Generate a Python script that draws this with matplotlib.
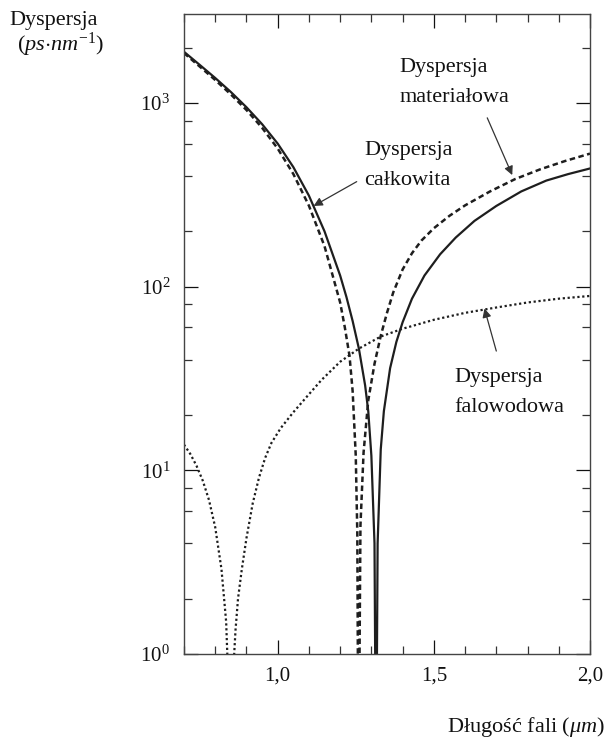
import matplotlib
matplotlib.use('Agg')
import matplotlib.pyplot as plt
from matplotlib.ticker import FixedLocator, MultipleLocator, LogLocator, NullFormatter

plt.rcParams['font.family'] = ['Liberation Serif', 'DejaVu Serif']
plt.rcParams['mathtext.fontset'] = 'custom'
plt.rcParams['mathtext.rm'] = 'Liberation Serif'
plt.rcParams['mathtext.it'] = 'Liberation Serif:italic'

# dyspersja calkowita (solid)
wl_total = [0.70, 0.75, 0.80, 0.85, 0.90, 0.95, 1.00, 1.05, 1.10, 1.15, 1.20, 1.22,
            1.24, 1.26, 1.28, 1.29, 1.30, 1.31, 1.314, 1.316, 1.32, 1.33, 1.34,
            1.36, 1.38, 1.40, 1.43, 1.47, 1.52, 1.57, 1.63, 1.70, 1.78, 1.86,
            1.93, 2.00]
d_total = [1900, 1614, 1368, 1148, 948, 767, 601, 448, 313, 200, 115, 88,
           65, 46, 29, 21, 12, 4, 0.3, 0.3, 4, 13, 21,
           36, 50, 64, 86, 115, 150, 185, 228, 275, 330, 378,
           410, 440]

# dyspersja materialowa (dashed)
wl_mat = [0.70, 0.75, 0.80, 0.85, 0.90, 0.95, 1.00, 1.05, 1.10, 1.15, 1.20, 1.215,
          1.23, 1.24, 1.25, 1.255, 1.258, 1.26, 1.265, 1.275, 1.29, 1.31, 1.33,
          1.35, 1.37, 1.40, 1.43, 1.46, 1.50, 1.55, 1.60, 1.68, 1.76, 1.84,
          1.92, 2.00]
d_mat = [1870, 1581, 1334, 1114, 916, 733, 565, 411, 276, 166, 82, 60,
         42, 27, 12, 4.5, 0.3, 0.3, 5, 12.5, 24, 38, 54,
         72, 93, 124, 152, 178, 208, 243, 277, 330, 385, 435,
         483, 530]

# dyspersja falowodowa (dotted)
wl_wg = [0.70, 0.72, 0.74, 0.76, 0.78, 0.80, 0.82, 0.835, 0.845, 0.85, 0.86, 0.865,
         0.873, 0.885, 0.90, 0.92, 0.94, 0.96, 0.98, 1.01, 1.05, 1.09, 1.14, 1.20,
         1.26, 1.33, 1.40, 1.50, 1.60, 1.70, 1.80, 1.90, 2.00]
d_wg = [13.8, 12.3, 10.6, 8.8, 6.9, 4.9, 2.9, 1.5, 0.5, 0.3, 0.95, 1.35,
        2.0, 2.88, 4.27, 6.6, 9.1, 11.7, 14.1, 17.0, 20.7, 24.8, 31, 39,
        46, 53.5, 59, 66, 72, 77, 82, 86, 89]

x_major = [1.0, 1.5, 2.0]
x_labels = ['1,0', '1,5', '2,0']

ink = '#1e1e1e'

fig = plt.figure(figsize=(6.07, 7.42), dpi=100)
ax = fig.add_axes([0.3031, 0.1186, 0.6689, 0.8625])

ax.plot(wl_total, d_total, color=ink, lw=1.6)
ax.plot(wl_mat, d_mat, color=ink, lw=1.8, linestyle=(0, (2.2, 1.4)))
ax.plot(wl_wg, d_wg, color=ink, lw=1.6, linestyle=(0, (1, 1.2)))

ax.set_yscale('log')
ax.set_xlim(0.7, 2.0)
ax.set_ylim(1, 3050)

ax.xaxis.set_major_locator(FixedLocator(x_major))
ax.set_xticklabels(x_labels)
ax.xaxis.set_minor_locator(MultipleLocator(0.1))
ax.yaxis.set_major_locator(LogLocator(base=10, numticks=10))
ax.yaxis.set_minor_locator(LogLocator(base=10, subs=[2, 4, 6, 8], numticks=10))
ax.yaxis.set_minor_formatter(NullFormatter())

ax.tick_params(which='both', direction='in', top=True, right=True, color='#333333')
ax.tick_params(which='major', length=10, width=0.9, labelsize=15, colors='#111111')
ax.tick_params(which='minor', length=5.5, width=0.9)
ax.tick_params(axis='x', which='major', pad=9)
ax.tick_params(axis='y', which='major', pad=10)
for sp in ax.spines.values():
    sp.set_linewidth(1.0)
    sp.set_color('#444444')

# opisy krzywych
txt = dict(fontsize=16, color='#111111', ha='left', va='center', linespacing=1.75)
ax.text(1.278, 456, 'Dyspersja\ncałkowita', **txt)
ax.text(1.39, 1294, 'Dyspersja\nmateriałowa', **txt)
ax.text(1.566, 26.6, 'Dyspersja\nfalowodowa', **txt)

arr = dict(arrowstyle='-|>', color='#333333', lw=0.9, mutation_scale=13,
           shrinkA=0, shrinkB=0)
ax.annotate('', xy=(1.115, 275), xytext=(1.253, 373), arrowprops=arr)
ax.annotate('', xy=(1.751, 405), xytext=(1.671, 830), arrowprops=arr)
ax.annotate('', xy=(1.662, 76), xytext=(1.70, 44.6), arrowprops=arr)

fig.text(0.016, 0.972, 'Dyspersja', fontsize=16, color='#111111', ha='left', va='center')
fig.text(0.028, 0.94, r'$\mathit{(ps{\cdot}nm^{-1})}$', fontsize=16, color='#111111',
         ha='left', va='center')
fig.text(0.997, 0.02, r'Długość fali $(\mu m)$', fontsize=16, color='#111111',
         ha='right', va='center')

fig.savefig('out.png', dpi=100)
